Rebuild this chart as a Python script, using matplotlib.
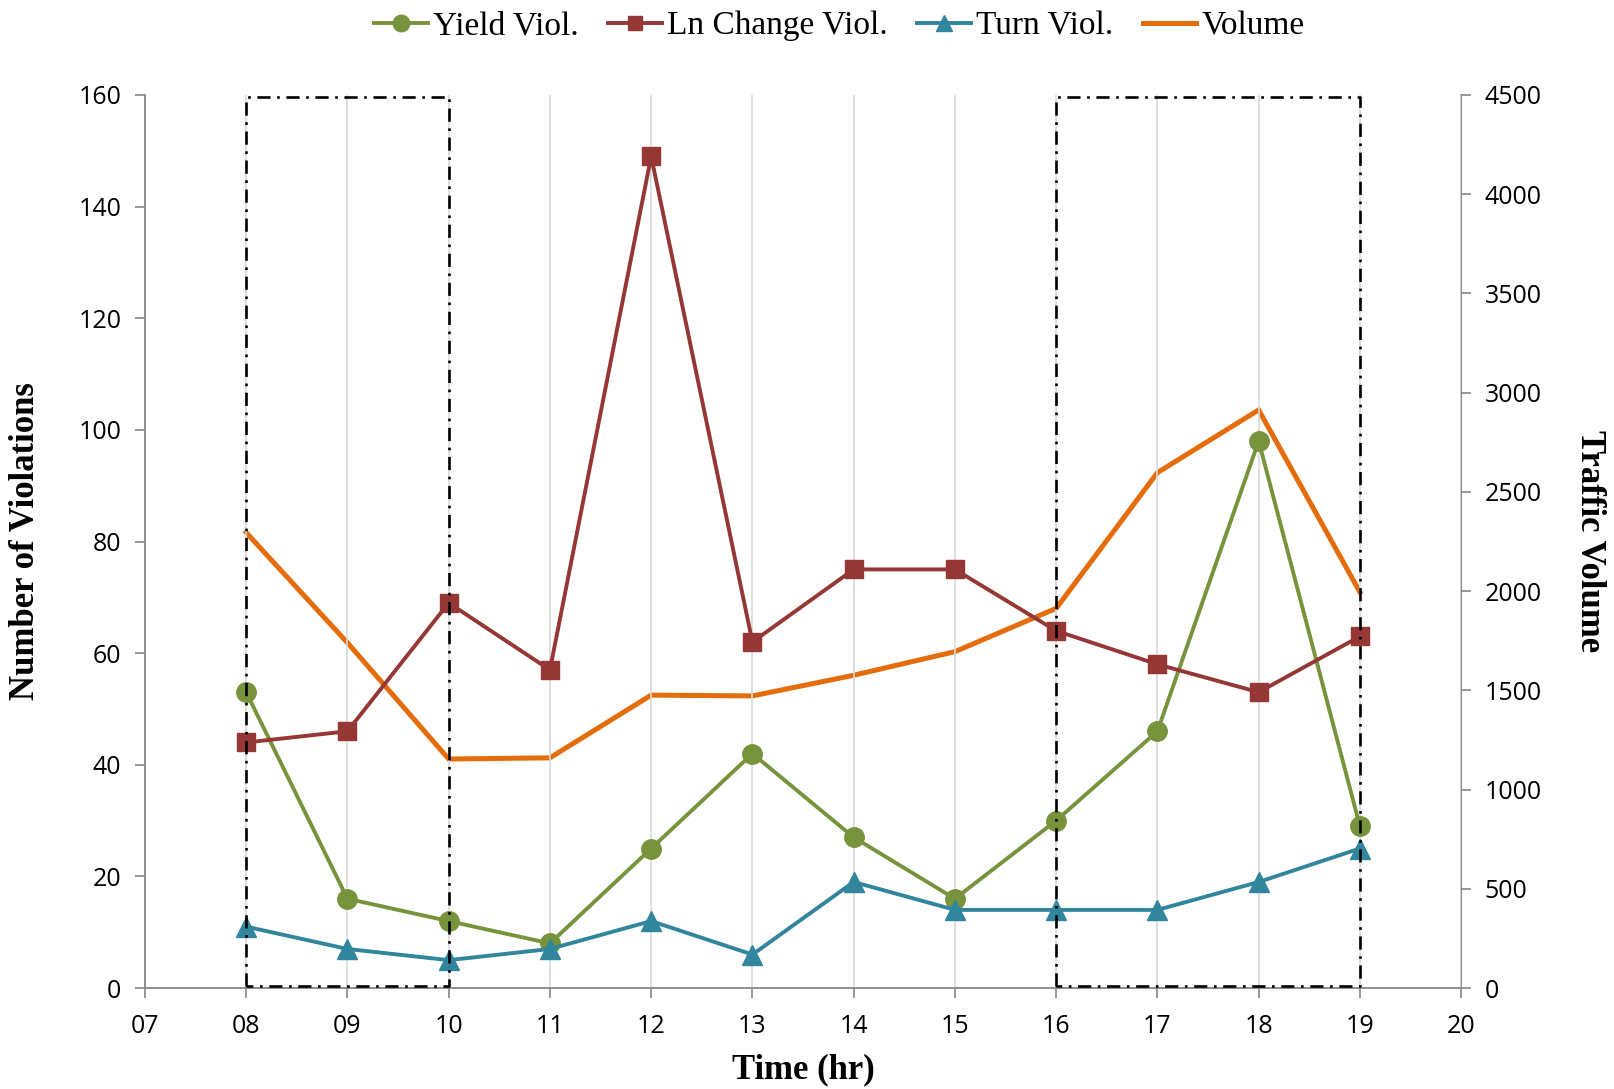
import numpy as np
import matplotlib
matplotlib.use('Agg')
import matplotlib.pyplot as plt

# data
hours = [8, 9, 10, 11, 12, 13, 14, 15, 16, 17, 18, 19]
yield_viol = [53, 16, 12, 8, 25, 42, 27, 16, 30, 46, 98, 29]
ln_change_viol = [44, 46, 69, 57, 149, 62, 75, 75, 64, 58, 53, 63]
turn_viol = [11, 7, 5, 7, 12, 6, 19, 14, 14, 14, 19, 25]
volume = [2295, 1740, 1154, 1160, 1476, 1472, 1576, 1695, 1913, 2597, 2913, 1995]

# highlighted peak periods (start hr, end hr)
peak_boxes = [(8, 10), (16, 19)]

x_ticks = list(range(7, 21))
left_ticks = list(range(0, 161, 20))
right_ticks = list(range(0, 4501, 500))

green = '#77933C'
red = '#953735'
teal = '#31859C'
orange = '#E46C0A'
spine_col = '#868686'

tick_font = 'Open Sans'
serif = ['Liberation Serif', 'DejaVu Serif']

fig = plt.figure(figsize=(16.14, 10.89), dpi=100)
ax = fig.add_axes([0.0898, 0.0927, 0.8155, 0.8201])
ax2 = ax.twinx()

ax.set_zorder(ax2.get_zorder() + 1)
ax.patch.set_visible(False)

# volume on the right axis
l4, = ax2.plot(hours, volume, color=orange, lw=3.6, label='Volume', solid_joinstyle='miter')

l1, = ax.plot(hours, yield_viol, color=green, lw=2.8, marker='o', ms=14, label='Yield Viol.')
l2, = ax.plot(hours, ln_change_viol, color=red, lw=2.8, marker='s', ms=12.5, label='Ln Change Viol.')
l3, = ax.plot(hours, turn_viol, color=teal, lw=2.8, marker='^', ms=14, label='Turn Viol.')

# dash-dot boxes
for x0, x1 in peak_boxes:
    ax.plot([x0, x0, x1, x1, x0], [0.3, 159.7, 159.7, 0.3, 0.3], color='black', lw=1.9,
            linestyle=(0, (5, 2.5, 1, 2.5)), clip_on=False, zorder=5)

ax.set_xlim(7, 20)
ax.set_ylim(0, 160)
ax2.set_ylim(0, 4500)
ax.set_xticks(x_ticks)
ax.set_xticklabels(['%02d' % h for h in x_ticks])
ax.set_yticks(left_ticks)
ax2.set_yticks(right_ticks)

ax.grid(axis='x', color='#D9D9D9', lw=1.2)
ax.set_axisbelow(True)

for a in (ax, ax2):
    for s in a.spines.values():
        s.set_visible(False)
ax.spines['left'].set_visible(True)
ax.spines['bottom'].set_visible(True)
ax2.spines['right'].set_visible(True)
for s in (ax.spines['left'], ax.spines['bottom'], ax2.spines['right']):
    s.set_color(spine_col)
    s.set_linewidth(1.3)

ax.tick_params(axis='both', colors=spine_col, length=7, width=1.2, labelcolor='black',
               labelsize=18)
ax.tick_params(axis='x', pad=12)
ax.tick_params(axis='y', pad=10)
ax2.tick_params(axis='y', colors=spine_col, length=7, width=1.2, labelcolor='black',
                labelsize=18, pad=10)
for lab in ax.get_xticklabels() + ax.get_yticklabels() + ax2.get_yticklabels():
    lab.set_fontfamily(tick_font)

ax.set_xlabel('Time (hr)', fontsize=25, fontweight='bold', family=serif, labelpad=10)
ax.set_ylabel('Number of Violations', fontsize=25, fontweight='bold', family=serif, labelpad=26)
ax2.set_ylabel('Traffic Volume', fontsize=25, fontweight='bold', family=serif,
               rotation=270, labelpad=46)

fig.legend([l1, l2, l3, l4], ['Yield Viol.', 'Ln Change Viol.', 'Turn Viol.', 'Volume'],
           loc='center', bbox_to_anchor=(0.52, 0.976), ncol=4, frameon=False,
           prop={'family': serif, 'size': 24}, handlelength=1.6, handletextpad=0.15,
           columnspacing=0.9, markerscale=0.85)

fig.savefig('out.png', dpi=100)
